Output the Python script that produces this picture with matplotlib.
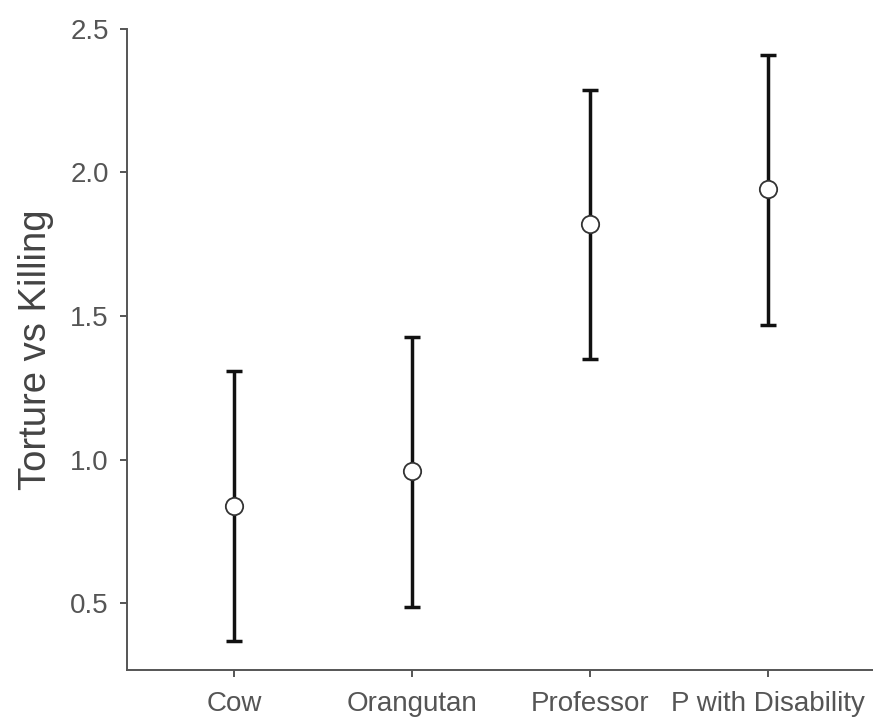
import matplotlib
matplotlib.use('Agg')
import matplotlib.pyplot as plt
import numpy as np

# -------- data -------- #
categories = ['Cow', 'Orangutan', 'Professor', 'P with Disability']
means = [0.839, 0.961, 1.821, 1.941]
lower = [0.369, 0.488, 1.351, 1.469]
upper = [1.309, 1.427, 2.287, 2.409]
y_ticks = [0.5, 1.0, 1.5, 2.0, 2.5]

# -------- style -------- #
plt.rcParams['font.family'] = ['Liberation Sans', 'DejaVu Sans']
text_col = '#555555'
axis_col = '#555555'

fig = plt.figure(figsize=(8.73, 7.19), dpi=100)
ax = fig.add_axes([0.1455, 0.068, 0.8545, 0.892])

x = np.arange(len(categories))
means_arr = np.array(means)
yerr = np.vstack([means_arr - np.array(lower), np.array(upper) - means_arr])

ax.errorbar(x, means_arr, yerr=yerr, fmt='none', ecolor='#111111',
            elinewidth=2.5, capsize=6, capthick=2.5, zorder=2)
ax.plot(x, means_arr, 'o', markersize=12.5, markerfacecolor='white',
        markeredgecolor='#333333', markeredgewidth=1.3, zorder=3)

ax.set_xlim(-0.6, 3.59)
ax.set_ylim(0.268, 2.5)
ax.set_yticks(y_ticks)
ax.set_yticklabels([f'{v:.1f}' for v in y_ticks])
ax.set_xticks(x)
ax.set_xticklabels(categories)

for side in ['top', 'right']:
    ax.spines[side].set_visible(False)
for side in ['left', 'bottom']:
    ax.spines[side].set_color(axis_col)
    ax.spines[side].set_linewidth(1.4)

ax.tick_params(axis='both', colors=axis_col, labelcolor=text_col,
               labelsize=20, length=5, width=1.4)
ax.tick_params(axis='y', pad=8)
ax.tick_params(axis='x', pad=10)

ax.set_ylabel('Torture vs Killing', fontsize=27.5, color='#444444', labelpad=12)

fig.savefig('out.png', dpi=100)
